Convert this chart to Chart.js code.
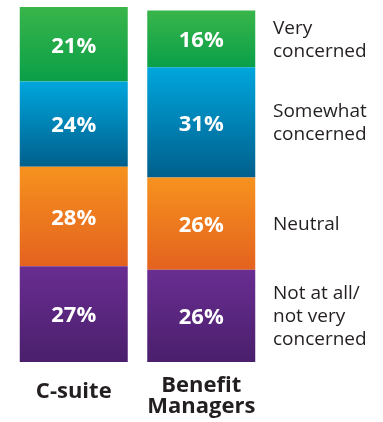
<!DOCTYPE html>
<html lang="en">
<head>
    <meta charset="UTF-8">
    <title>Level of concern</title>
    <script src="https://cdn.jsdelivr.net/npm/chart.js"></script>
    <style>
        body {
            margin: 0;
            padding: 0;
            background-color: #ffffff;
        }
        canvas {
            display: block;
        }
    </style>
</head>
<body>
    <canvas id="concernChart" width="383" height="422"></canvas>

    <script>
        // Survey groups
        const categories = ['C-suite', ['Benefit', 'Managers']];

        // Share of respondents per answer, stacked from the bottom up
        const notConcerned = [27, 26];
        const neutral = [28, 26];
        const somewhatConcerned = [24, 31];
        const veryConcerned = [21, 16];

        const answerLabels = [
            ['Not at all/', 'not very', 'concerned'],
            ['Neutral'],
            ['Somewhat', 'concerned'],
            ['Very', 'concerned']
        ];

        // top / bottom colour of each band
        const bandColors = [
            ['#692d91', '#4a1f6c'],
            ['#f6921e', '#e4621f'],
            ['#00a6dd', '#005f8c'],
            ['#39b54a', '#0a9f48']
        ];

        const seriesValues = [notConcerned, neutral, somewhatConcerned, veryConcerned];
        const textFont = "'Open Sans', sans-serif";
        const textColor = '#231f20';

        // vertical gradient running over the segment itself
        function segmentGradient(ctx) {
            const chart = ctx.chart;
            const colors = bandColors[ctx.datasetIndex];
            if (!chart.chartArea || ctx.dataIndex === undefined) return colors[0];
            const y = chart.scales.y;
            let base = 0;
            for (let d = 0; d < ctx.datasetIndex; d++) base += seriesValues[d][ctx.dataIndex];
            const top = base + seriesValues[ctx.datasetIndex][ctx.dataIndex];
            const g = chart.ctx.createLinearGradient(0, y.getPixelForValue(top), 0, y.getPixelForValue(base));
            g.addColorStop(0, colors[0]);
            g.addColorStop(1, colors[1]);
            return g;
        }

        const labelPlugin = {
            id: 'labels',
            afterDatasetsDraw(chart) {
                const c = chart.ctx;
                c.save();

                // percentages inside each segment
                c.fillStyle = '#ffffff';
                c.font = "bold 22px " + textFont;
                c.textAlign = 'center';
                c.textBaseline = 'middle';
                chart.data.datasets.forEach((ds, di) => {
                    chart.getDatasetMeta(di).data.forEach((bar, i) => {
                        c.fillText(ds.data[i] + '%', bar.x, (bar.y + bar.base) / 2 + 2);
                    });
                });

                // group names under the bars
                c.fillStyle = textColor;
                c.font = "bold 22px " + textFont;
                const xs = chart.scales.x;
                categories.forEach((cat, i) => {
                    const lines = Array.isArray(cat) ? cat : [cat];
                    const mid = lines.length > 1 ? 396 : 392;
                    const lh = 21;
                    lines.forEach((t, k) => {
                        c.fillText(t, xs.getPixelForValue(i), mid + (k - (lines.length - 1) / 2) * lh);
                    });
                });

                // answer names beside the second bar
                c.font = "19px " + textFont;
                c.textAlign = 'left';
                answerLabels.forEach((lines, di) => {
                    const bar = chart.getDatasetMeta(di).data[1];
                    const mid = (bar.y + bar.base) / 2;
                    const lh = 23;
                    lines.forEach((t, k) => {
                        c.fillText(t, 273, mid + 1 + (k - (lines.length - 1) / 2) * lh);
                    });
                });

                c.restore();
            }
        };

        new Chart(document.getElementById('concernChart').getContext('2d'), {
            type: 'bar',
            data: {
                labels: categories,
                datasets: seriesValues.map((vals) => ({
                    data: vals,
                    backgroundColor: segmentGradient,
                    borderWidth: 0,
                    categoryPercentage: 1,
                    barPercentage: 0.847
                }))
            },
            options: {
                responsive: false,
                animation: false,
                layout: { padding: { top: 7, bottom: 60, left: 10, right: 118 } },
                plugins: {
                    legend: { display: false },
                    tooltip: { enabled: false }
                },
                scales: {
                    x: { stacked: true, display: false },
                    y: { stacked: true, display: false, min: 0, max: 100 }
                }
            },
            plugins: [labelPlugin]
        });
    </script>
</body>
</html>
